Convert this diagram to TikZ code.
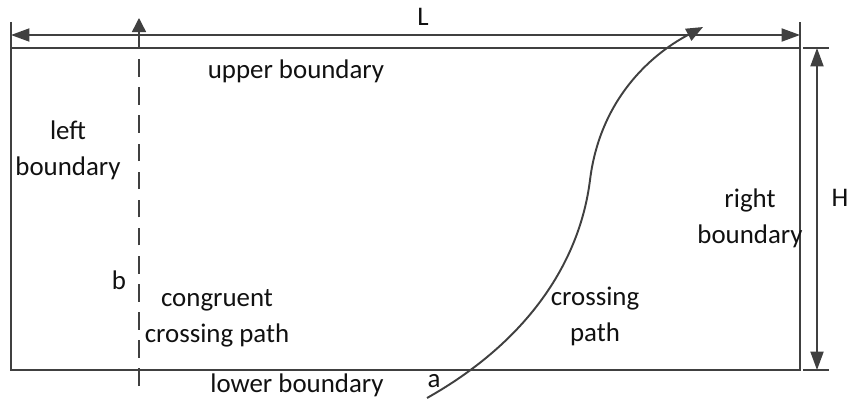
\documentclass[tikz,border=0pt]{standalone}
\usepackage{fontspec}
\setmainfont{Carlito}
\usetikzlibrary{arrows.meta}
\definecolor{linegray}{HTML}{404040}
\definecolor{textblack}{HTML}{111111}

\begin{document}
\begin{tikzpicture}[
    x=0.02cm,y=-0.02cm,
    font=\fontsize{15.3}{20.4}\selectfont,
    bound/.style={draw=linegray,line width=1.1pt},
    dimline/.style={draw=linegray,line width=0.8pt,
      {Triangle[length=10.5pt,width=7.5pt]}-{Triangle[length=10.5pt,width=7.5pt]}},
    tick/.style={draw=linegray,line width=0.8pt},
    route/.style={draw=linegray,line width=1.1pt,-{Triangle[length=9.5pt,width=7.5pt]}},
    congruent/.style={draw=linegray,line width=0.8pt,dash pattern=on 10pt off 6pt,
      -{Triangle[length=8pt,width=8pt]}},
    lbl/.style={align=center,text=textblack,inner sep=0pt}
  ]
  \useasboundingbox (0,0) rectangle (851,402);

  % domain corners
  \coordinate (nw) at (11,48);
  \coordinate (ne) at (800,48);
  \coordinate (sw) at (11,370);
  \coordinate (se) at (800,370);
  \coordinate (nwup) at (11,22);
  \coordinate (neup) at (800,22);

  % boundaries
  \draw[bound] (nwup) -- (sw) -- (se) -- (neup);
  \draw[bound] (nw) -- (ne);

  % length L
  \coordinate (lleft) at (11,35);
  \coordinate (lright) at (800,35);
  \draw[dimline] (lleft) -- (lright);
  \node[lbl] (lenL) at (423,17) {L};

  % height H
  \coordinate (htop) at (817,48);
  \coordinate (hbot) at (817,370);
  \coordinate (httl) at (803,48);
  \coordinate (httr) at (829,48);
  \coordinate (hbtl) at (803,370);
  \coordinate (hbtr) at (829,370);
  \draw[tick] (httl) -- (httr);
  \draw[tick] (hbtl) -- (hbtr);
  \draw[dimline] (htop) -- (hbot);
  \node[lbl] (lenH) at (840,198) {H};

  % congruent crossing path (dashed)
  \coordinate (bstart) at (139,386);
  \coordinate (bend) at (139,18);
  \draw[congruent] (bstart) -- (bend);

  % crossing path
  \coordinate (astart) at (427,398);
  \coordinate (amid) at (590,180);
  \coordinate (aend) at (703,27);
  \draw[route] (astart) .. controls (530,340) and (580,260) .. (amid)
    .. controls (600,100) and (650,55) .. (aend);

  % labels
  \node[lbl] (upper) at (296,71) {upper boundary};
  \node[lbl] (lower) at (297,385) {lower boundary};
  \node[lbl] (left) at (68,150) {left\\boundary};
  \node[lbl] (right) at (750,218) {right\\boundary};
  \node[lbl] (cpath) at (217,318) {congruent\\crossing path};
  \node[lbl] (xpath) at (595,316) {crossing\\path};
  \node[lbl] (pta) at (434,381) {a};
  \node[lbl] (ptb) at (119,280) {b};
\end{tikzpicture}
\end{document}
